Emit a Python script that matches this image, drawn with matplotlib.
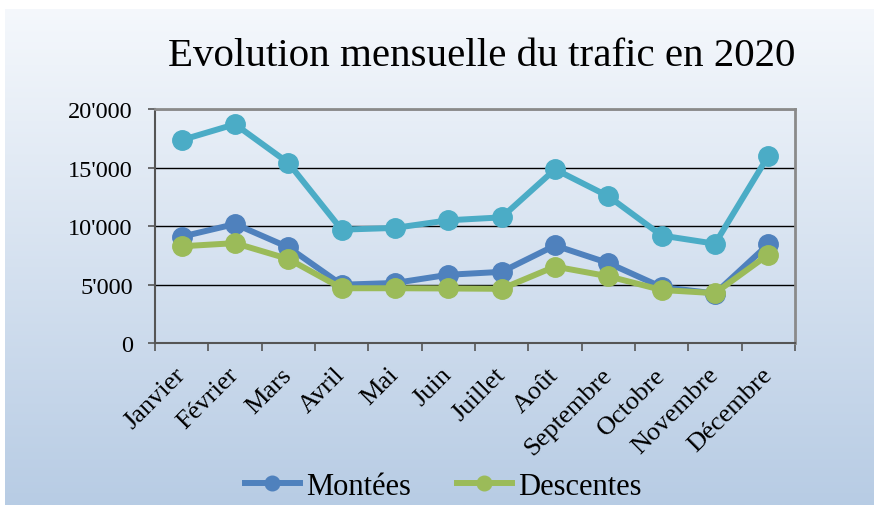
import numpy as np
import matplotlib.pyplot as plt

mois = ["Janvier", "Février", "Mars", "Avril", "Mai", "Juin", "Juillet",
        "Août", "Septembre", "Octobre", "Novembre", "Décembre"]
total = [17350, 18700, 15400, 9700, 9850, 10500, 10750, 14850, 12550, 9200, 8500, 16000]
montees = [9100, 10180, 8200, 5000, 5150, 5850, 6100, 8350, 6850, 4800, 4250, 8450]
descentes = [8280, 8550, 7200, 4700, 4700, 4680, 4650, 6550, 5720, 4550, 4280, 7580]
yticks = [0, 5000, 10000, 15000, 20000]
ylabels = ["0", "5'000", "10'000", "15'000", "20'000"]

plt.rcParams['font.family'] = ['Liberation Serif', 'DejaVu Serif']

fig = plt.figure(figsize=(8.74, 5.06), dpi=100)

# fond dégradé
bg = fig.add_axes([5 / 874, 0, 1 - 5 / 874, 1 - 10 / 506], zorder=-10)
grad = np.linspace(0, 1, 256).reshape(-1, 1)
top = np.array([0.96, 0.972, 0.988])
bot = np.array([0.72, 0.80, 0.895])
img = top + (bot - top) * grad[:, :, None]
bg.imshow(img, aspect='auto', extent=[0, 1, 0, 1], origin='upper')
bg.axis('off')

ax = fig.add_axes([155 / 874, 1 - 344.3 / 506, 640 / 874, 234.3 / 506])
ax.set_facecolor('none')
x = np.arange(len(mois))

ax.plot(x, total, color='#4BACC6', lw=4.3, marker='o', ms=14, label='_nolegend_', zorder=3)
ax.plot(x, montees, color='#4F81BD', lw=4.3, marker='o', ms=14, label='Montées', zorder=4)
ax.plot(x, descentes, color='#9BBB59', lw=4.3, marker='o', ms=14, label='Descentes', zorder=5)

ax.set_xlim(-0.5, 11.5)
ax.set_ylim(0, 20000)
ax.set_yticks(yticks)
ax.set_yticklabels(ylabels, fontsize=17.5)
for y in yticks[1:]:
    ax.axhline(y, color='black', lw=1, zorder=1)

ax.set_xticks(np.arange(-0.5, 12, 1))
ax.set_xticklabels([])
ax.set_xticks(x, minor=True)
ax.set_xticklabels(mois, minor=True, rotation=45, ha='right', va='center',
                   rotation_mode='anchor', fontsize=19)
ax.tick_params(axis='x', which='minor', length=0, pad=20)
ax.tick_params(axis='x', which='major', length=6, width=1.2, color='#555555', direction='out')
ax.tick_params(axis='y', length=5, width=1.2, color='#555555', direction='out', pad=11)

for s in ['top', 'right']:
    ax.spines[s].set_color('#8a8a8a')
    ax.spines[s].set_linewidth(2)
for s in ['left', 'bottom']:
    ax.spines[s].set_color('#555555')
    ax.spines[s].set_linewidth(1.5)

fig.text(0.551, 0.869, "Evolution mensuelle du trafic en 2020", ha='center', va='baseline', fontsize=29.5)

fig.legend(loc='center', bbox_to_anchor=(0.507, 0.037), ncol=2, frameon=False,
           fontsize=22, handlelength=1.8, handletextpad=0.2, columnspacing=1.5,
           markerscale=0.75)

fig.savefig('out.png', dpi=100)
